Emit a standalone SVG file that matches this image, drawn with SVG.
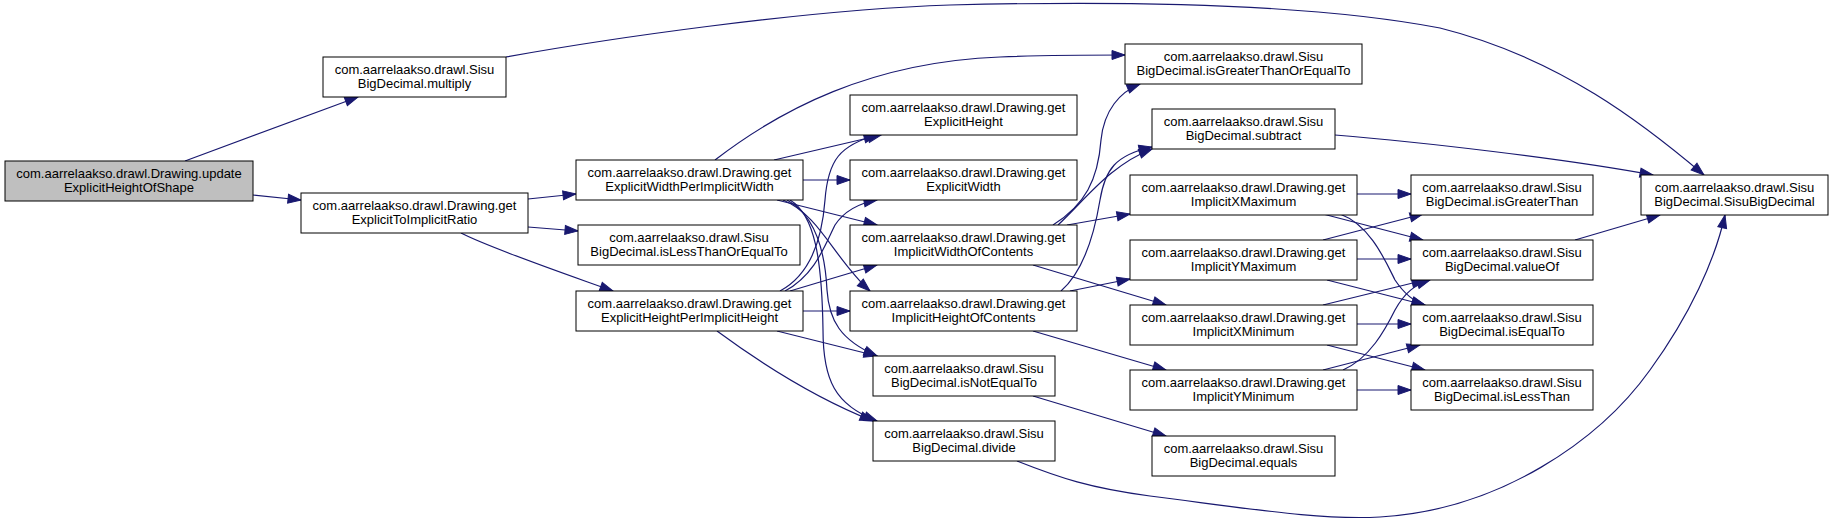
<svg xmlns="http://www.w3.org/2000/svg" width="1833" height="522" viewBox="0 0 1833 522">
<style>
.n rect{fill:#fff;stroke:#000;stroke-width:1}
.n.root rect{fill:#bfbfbf}
.n text{font-family:"Liberation Sans",Arial,sans-serif;font-size:13px;fill:#000;text-anchor:middle}
.e path{fill:none;stroke:#191970;stroke-width:1.2;marker-end:url(#ah)}
</style>
<defs>
<marker id="ah" markerUnits="userSpaceOnUse" markerWidth="15" markerHeight="11" refX="13" refY="4.5" orient="auto" overflow="visible">
<path d="M0,0 L13,4.5 L0,9 z" fill="#191970" stroke="#191970" stroke-width="1"/>
</marker>
</defs>
<rect width="1833" height="522" fill="#fff"/>
<g id="edges" class="e">
<path d="M185,161 L358,97"/>
<path d="M253,195 L301,200"/>
<path d="M506,57 C600,40 800,10 950,5 C1150,0 1320,5 1440,28 C1560,58 1645,125 1704,175"/>
<path d="M528,199 L576,194"/>
<path d="M528,227 L578,231"/>
<path d="M461,233 C490,248 560,272 613,291"/>
<path d="M715,160 C780,110 870,62 1000,57 C1050,55 1090,55 1125,55"/>
<path d="M774,160 L881,135"/>
<path d="M803,180 L850,180"/>
<path d="M777,200 L877,225"/>
<path d="M783,200 C820,215 835,260 870,291"/>
<path d="M787,200 C815,215 825,250 827,290 C829,320 840,340 877,356"/>
<path d="M790,200 C815,215 822,260 823,330 C823,380 835,405 877,421"/>
<path d="M780,291 C810,275 822,240 825,200 C828,160 840,145 877,135"/>
<path d="M785,291 C815,275 825,245 835,225 C845,210 860,203 877,200"/>
<path d="M790,291 L877,265"/>
<path d="M803,311 L850,311"/>
<path d="M777,331 L877,356"/>
<path d="M717,331 C770,370 820,400 873,421"/>
<path d="M1053,225 C1085,205 1098,180 1101,140 C1104,110 1120,92 1140,84"/>
<path d="M1058,225 C1085,200 1110,165 1152,149"/>
<path d="M1067,225 L1130,214"/>
<path d="M1033,265 L1166,305"/>
<path d="M1061,291 C1085,270 1095,230 1100,200 C1105,170 1115,155 1152,147"/>
<path d="M1070,291 L1130,279"/>
<path d="M1033,331 L1166,370"/>
<path d="M1033,396 L1166,436"/>
<path d="M1017,461 C1060,478 1090,488 1150,496 C1260,510 1320,520 1380,517 C1500,510 1600,440 1650,370 C1690,315 1715,260 1725,215"/>
<path d="M1335,135 C1420,142 1560,158 1653,175"/>
<path d="M1357,194 L1411,194"/>
<path d="M1323,214 L1423,240"/>
<path d="M1340,214 C1370,225 1385,260 1395,280 C1405,295 1415,302 1425,305"/>
<path d="M1323,240 L1423,214"/>
<path d="M1357,259 L1411,259"/>
<path d="M1327,280 L1425,305"/>
<path d="M1323,305 L1425,280"/>
<path d="M1357,324 L1411,324"/>
<path d="M1327,345 L1425,370"/>
<path d="M1323,370 L1420,345"/>
<path d="M1343,370 C1370,358 1385,330 1395,310 C1405,292 1415,285 1430,280"/>
<path d="M1357,390 L1411,390"/>
<path d="M1575,240 L1660,215"/>
</g>
<g id="n_update" class="n root"><rect x="5" y="161" width="248" height="40"/><text x="129" y="177.5">com.aarrelaakso.drawl.Drawing.update</text><text x="129" y="192">ExplicitHeightOfShape</text></g>
<g id="n_multiply" class="n"><rect x="323" y="57" width="183" height="40"/><text x="414.5" y="73.5">com.aarrelaakso.drawl.Sisu</text><text x="414.5" y="88">BigDecimal.multiply</text></g>
<g id="n_ratio" class="n"><rect x="301" y="193" width="227" height="40"/><text x="414.5" y="209.5">com.aarrelaakso.drawl.Drawing.get</text><text x="414.5" y="224">ExplicitToImplicitRatio</text></g>
<g id="n_ewpiw" class="n"><rect x="576" y="160" width="227" height="40"/><text x="689.5" y="176.5">com.aarrelaakso.drawl.Drawing.get</text><text x="689.5" y="191">ExplicitWidthPerImplicitWidth</text></g>
<g id="n_lte" class="n"><rect x="578" y="225" width="222" height="40"/><text x="689" y="241.5">com.aarrelaakso.drawl.Sisu</text><text x="689" y="256">BigDecimal.isLessThanOrEqualTo</text></g>
<g id="n_ehpih" class="n"><rect x="576" y="291" width="227" height="40"/><text x="689.5" y="307.5">com.aarrelaakso.drawl.Drawing.get</text><text x="689.5" y="322">ExplicitHeightPerImplicitHeight</text></g>
<g id="n_geh" class="n"><rect x="850" y="95" width="227" height="40"/><text x="963.5" y="111.5">com.aarrelaakso.drawl.Drawing.get</text><text x="963.5" y="126">ExplicitHeight</text></g>
<g id="n_gew" class="n"><rect x="850" y="160" width="227" height="40"/><text x="963.5" y="176.5">com.aarrelaakso.drawl.Drawing.get</text><text x="963.5" y="191">ExplicitWidth</text></g>
<g id="n_iwc" class="n"><rect x="850" y="225" width="227" height="40"/><text x="963.5" y="241.5">com.aarrelaakso.drawl.Drawing.get</text><text x="963.5" y="256">ImplicitWidthOfContents</text></g>
<g id="n_ihc" class="n"><rect x="850" y="291" width="227" height="40"/><text x="963.5" y="307.5">com.aarrelaakso.drawl.Drawing.get</text><text x="963.5" y="322">ImplicitHeightOfContents</text></g>
<g id="n_ne" class="n"><rect x="873" y="356" width="182" height="40"/><text x="964" y="372.5">com.aarrelaakso.drawl.Sisu</text><text x="964" y="387">BigDecimal.isNotEqualTo</text></g>
<g id="n_div" class="n"><rect x="873" y="421" width="182" height="40"/><text x="964" y="437.5">com.aarrelaakso.drawl.Sisu</text><text x="964" y="452">BigDecimal.divide</text></g>
<g id="n_gte" class="n"><rect x="1125" y="44" width="237" height="40"/><text x="1243.5" y="60.5">com.aarrelaakso.drawl.Sisu</text><text x="1243.5" y="75">BigDecimal.isGreaterThanOrEqualTo</text></g>
<g id="n_sub" class="n"><rect x="1152" y="109" width="183" height="40"/><text x="1243.5" y="125.5">com.aarrelaakso.drawl.Sisu</text><text x="1243.5" y="140">BigDecimal.subtract</text></g>
<g id="n_ixmax" class="n"><rect x="1130" y="175" width="227" height="40"/><text x="1243.5" y="191.5">com.aarrelaakso.drawl.Drawing.get</text><text x="1243.5" y="206">ImplicitXMaximum</text></g>
<g id="n_iymax" class="n"><rect x="1130" y="240" width="227" height="40"/><text x="1243.5" y="256.5">com.aarrelaakso.drawl.Drawing.get</text><text x="1243.5" y="271">ImplicitYMaximum</text></g>
<g id="n_ixmin" class="n"><rect x="1130" y="305" width="227" height="40"/><text x="1243.5" y="321.5">com.aarrelaakso.drawl.Drawing.get</text><text x="1243.5" y="336">ImplicitXMinimum</text></g>
<g id="n_iymin" class="n"><rect x="1130" y="370" width="227" height="40"/><text x="1243.5" y="386.5">com.aarrelaakso.drawl.Drawing.get</text><text x="1243.5" y="401">ImplicitYMinimum</text></g>
<g id="n_equals" class="n"><rect x="1152" y="436" width="183" height="40"/><text x="1243.5" y="452.5">com.aarrelaakso.drawl.Sisu</text><text x="1243.5" y="467">BigDecimal.equals</text></g>
<g id="n_gt" class="n"><rect x="1411" y="175" width="182" height="40"/><text x="1502" y="191.5">com.aarrelaakso.drawl.Sisu</text><text x="1502" y="206">BigDecimal.isGreaterThan</text></g>
<g id="n_valueof" class="n"><rect x="1411" y="240" width="182" height="40"/><text x="1502" y="256.5">com.aarrelaakso.drawl.Sisu</text><text x="1502" y="271">BigDecimal.valueOf</text></g>
<g id="n_eq" class="n"><rect x="1411" y="305" width="182" height="40"/><text x="1502" y="321.5">com.aarrelaakso.drawl.Sisu</text><text x="1502" y="336">BigDecimal.isEqualTo</text></g>
<g id="n_lt" class="n"><rect x="1411" y="370" width="182" height="40"/><text x="1502" y="386.5">com.aarrelaakso.drawl.Sisu</text><text x="1502" y="401">BigDecimal.isLessThan</text></g>
<g id="n_sbd" class="n"><rect x="1641" y="175" width="187" height="40"/><text x="1734.5" y="191.5">com.aarrelaakso.drawl.Sisu</text><text x="1734.5" y="206">BigDecimal.SisuBigDecimal</text></g>
</svg>
